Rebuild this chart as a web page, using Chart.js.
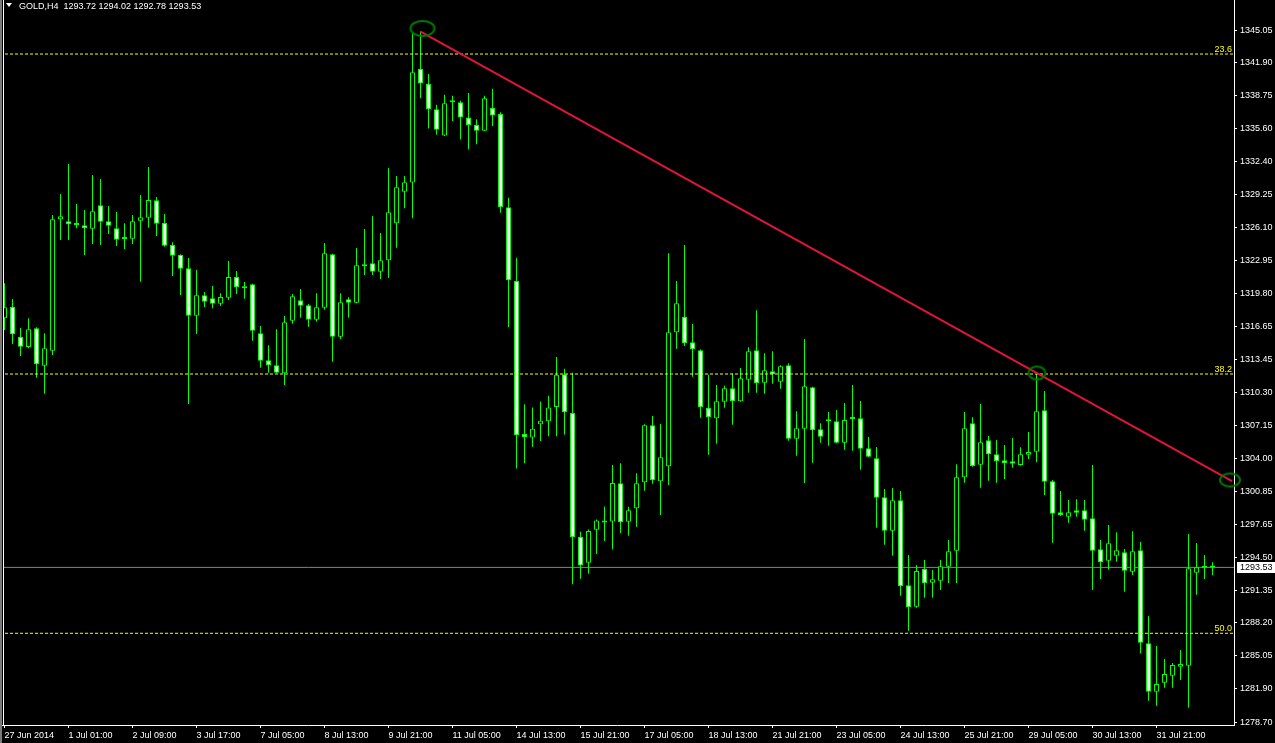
<!DOCTYPE html>
<html><head><meta charset="utf-8">
<script src="https://cdn.jsdelivr.net/npm/chart.js@4/dist/chart.umd.min.js"></script>
<style>html,body{margin:0;padding:0;background:#000;overflow:hidden}canvas{display:block;background:#000}</style>
</head><body>
<canvas id="c" width="1275" height="743"></canvas>
<script>
const symbolTitle = 'GOLD,H4';
const opens = [1317.41,1318.52,1315.65,1314.66,1316.45,1312.87,1314.31,1326.90,1326.71,1326.36,1326.33,1326.00,1328.25,1326.71,1326.04,1325.08,1325.04,1326.77,1327.06,1328.72,1326.55,1324.44,1323.48,1322.21,1317.66,1319.62,1319.33,1318.81,1319.39,1321.37,1320.32,1320.67,1315.97,1313.38,1312.91,1312.14,1317.18,1319.14,1318.66,1317.28,1318.43,1323.55,1315.65,1319.23,1318.91,1322.40,1322.69,1321.88,1322.97,1326.52,1329.55,1330.44,1341.35,1339.90,1337.46,1334.94,1338.13,1338.13,1336.67,1335.94,1335.40,1337.57,1337.00,1328.06,1320.98,1306.31,1305.99,1307.26,1307.54,1308.90,1312.05,1308.33,1296.46,1293.97,1297.13,1297.98,1297.94,1301.59,1297.91,1299.19,1301.69,1307.15,1301.78,1303.22,1316.07,1317.57,1315.11,1314.34,1308.84,1307.82,1309.42,1310.70,1309.45,1311.52,1314.34,1311.24,1312.33,1311.33,1312.91,1305.87,1306.83,1310.80,1306.77,1307.57,1307.54,1305.48,1307.76,1307.82,1304.95,1303.99,1300.25,1297.05,1299.96,1291.81,1289.76,1293.37,1292.06,1292.25,1293.59,1295.13,1302.17,1307.34,1303.37,1305.71,1304.37,1303.80,1303.70,1303.35,1304.33,1304.62,1308.59,1301.78,1298.81,1298.39,1299.00,1299.00,1298.24,1295.26,1294.17,1294.65,1294.97,1293.11,1295.17,1286.25,1281.61,1282.47,1283.14,1284.01,1284.10,1293.02,1293.50,1293.72];
const highs = [1320.77,1319.26,1316.48,1317.41,1316.55,1315.97,1327.32,1329.33,1332.21,1328.37,1327.80,1331.15,1330.77,1328.18,1327.60,1326.52,1327.32,1329.23,1331.92,1329.04,1327.41,1324.70,1323.55,1323.19,1322.04,1319.93,1320.51,1319.81,1322.91,1321.95,1320.89,1320.72,1316.67,1314.82,1316.36,1317.63,1319.74,1320.22,1318.78,1319.81,1324.63,1323.60,1319.81,1319.42,1324.15,1325.97,1327.22,1325.59,1331.82,1331.06,1331.06,1344.72,1344.90,1340.83,1337.88,1338.84,1338.74,1338.28,1339.01,1336.50,1338.74,1339.41,1337.17,1328.96,1323.21,1309.18,1308.86,1309.43,1309.99,1313.71,1312.58,1312.19,1296.95,1297.16,1298.12,1299.36,1303.35,1303.51,1299.35,1302.55,1307.25,1308.04,1307.28,1323.64,1320.99,1324.44,1316.87,1314.44,1312.00,1311.02,1310.95,1312.14,1312.65,1314.63,1318.18,1314.06,1314.25,1312.91,1313.10,1308.50,1315.43,1310.85,1307.34,1308.43,1308.62,1309.29,1311.02,1309.48,1306.03,1305.07,1301.05,1301.14,1300.85,1294.72,1293.76,1294.24,1293.28,1294.24,1296.16,1303.41,1308.43,1307.92,1309.19,1306.13,1305.74,1305.26,1305.93,1305.04,1306.51,1312.14,1310.44,1301.91,1300.85,1299.99,1300.06,1299.99,1303.35,1296.16,1297.59,1296.89,1295.29,1296.99,1295.96,1288.87,1285.99,1284.75,1284.36,1285.61,1296.73,1295.87,1294.72,1294.02];
const lows = [1316.29,1314.95,1313.80,1314.54,1311.72,1310.18,1313.89,1324.92,1324.92,1326.04,1323.48,1324.54,1324.44,1325.49,1324.34,1324.06,1324.54,1320.92,1326.10,1325.30,1324.27,1321.47,1319.65,1309.19,1315.91,1318.50,1318.37,1318.59,1319.17,1319.74,1319.29,1315.26,1312.68,1312.20,1312.14,1311.02,1316.89,1317.47,1316.61,1317.09,1318.24,1313.25,1315.43,1317.47,1318.85,1321.56,1321.56,1321.18,1321.27,1324.18,1327.96,1327.00,1338.52,1335.61,1335.04,1334.90,1336.33,1334.55,1333.60,1334.09,1335.37,1335.86,1327.54,1316.55,1303.01,1303.51,1305.10,1305.64,1306.10,1306.10,1306.27,1291.92,1292.45,1292.91,1294.82,1296.07,1295.25,1296.80,1296.57,1297.43,1300.88,1301.55,1298.55,1301.43,1314.50,1314.76,1311.81,1307.88,1304.33,1305.39,1308.84,1307.21,1309.40,1310.28,1310.28,1310.18,1311.14,1310.66,1305.68,1304.24,1301.62,1303.57,1305.48,1305.20,1305.43,1304.81,1304.72,1302.90,1304.10,1297.33,1295.70,1294.65,1290.81,1287.46,1289.66,1290.62,1290.62,1291.36,1292.02,1292.02,1301.65,1303.18,1301.17,1301.84,1301.65,1302.00,1303.09,1303.28,1303.92,1303.60,1300.47,1295.90,1298.46,1297.81,1298.39,1297.05,1291.36,1292.41,1293.31,1294.07,1291.20,1292.80,1285.29,1280.75,1280.27,1281.99,1281.99,1282.73,1280.08,1290.91,1292.41,1292.78];
const closes = [1318.47,1315.88,1314.69,1316.36,1313.00,1314.54,1326.90,1327.19,1326.42,1326.42,1326.04,1327.67,1326.67,1326.29,1324.95,1325.02,1326.71,1327.10,1328.75,1326.48,1324.37,1323.41,1322.17,1317.66,1319.62,1319.00,1318.81,1319.45,1321.37,1320.38,1320.29,1316.22,1313.35,1312.91,1312.20,1317.03,1319.52,1318.62,1317.28,1318.47,1323.64,1315.65,1318.95,1318.91,1322.49,1322.45,1321.88,1322.97,1327.58,1329.97,1330.45,1341.00,1339.93,1337.46,1335.50,1338.03,1338.24,1336.67,1335.94,1335.40,1338.52,1336.86,1328.06,1321.05,1306.20,1306.02,1306.81,1307.58,1308.86,1312.01,1308.40,1296.42,1293.70,1297.02,1298.02,1297.83,1301.63,1297.85,1299.00,1301.59,1307.15,1301.88,1304.08,1316.07,1318.85,1315.01,1314.44,1308.88,1307.92,1309.45,1310.70,1309.45,1311.66,1314.25,1311.18,1312.43,1312.04,1312.81,1305.87,1306.87,1310.89,1306.67,1306.06,1307.54,1305.48,1307.66,1307.83,1304.91,1304.14,1300.21,1297.05,1299.96,1291.72,1289.70,1293.18,1292.00,1292.39,1293.63,1295.07,1302.17,1306.87,1303.25,1305.52,1304.37,1303.70,1303.51,1303.47,1304.37,1304.59,1308.50,1301.74,1298.68,1298.55,1298.81,1298.77,1298.10,1295.13,1294.02,1295.84,1295.17,1293.21,1295.07,1286.31,1281.61,1282.35,1283.31,1284.17,1284.27,1293.44,1293.54,1293.57,1293.53];
const timeLabels = ['27 Jun 2014','1 Jul 01:00','2 Jul 09:00','3 Jul 17:00','7 Jul 05:00','8 Jul 13:00','9 Jul 21:00','11 Jul 05:00','14 Jul 13:00','15 Jul 21:00','17 Jul 05:00','18 Jul 13:00','21 Jul 21:00','23 Jul 05:00','24 Jul 13:00','25 Jul 21:00','29 Jul 05:00','30 Jul 13:00','31 Jul 21:00'];
const barsPerLabel = 8;
const priceTicks = [1345.05,1341.90,1338.75,1335.60,1332.40,1329.25,1326.10,1322.95,1319.80,1316.65,1313.45,1310.30,1307.15,1304.00,1300.85,1297.65,1294.50,1291.35,1288.20,1285.05,1281.90,1278.70];
const fibLevels = [1342.75, 1312.07, 1287.21];
const fibNames = ['23.6', '38.2', '50.0'];
const bidPrice = 1293.53;
const trendBars = [52, 153.44];
const trendPrices = [1344.90, 1301.81];
const markerBars = [52.25, 129.06, 153.19];
const markerPrices = [1345.20, 1312.17, 1301.91];

// view range / styles
const X_MIN = -0.5625, X_MAX = 153.6875, Y_MIN = 1278.417, Y_MAX = 1347.93;
const FONT = '"Liberation Sans", Arial, sans-serif';
const markerSizes = [[24, 15], [17, 13], [20, 13]];

function ellipseMark(w, h) {
  const c = document.createElement('canvas');
  c.width = w + 4; c.height = h + 4;
  const g = c.getContext('2d');
  g.strokeStyle = 'rgb(0,120,0)'; g.lineWidth = 2;
  g.beginPath(); g.ellipse(c.width / 2, c.height / 2, w / 2, h / 2, 0, 0, Math.PI * 2); g.stroke();
  return c;
}

const idx = opens.map((_, i) => i);
const bodyData = idx.map(i => ({x: i, y: [opens[i], closes[i]]}));
const wickData = idx.map(i => ({x: i, y: [lows[i], highs[i]]}));
const bodyFill = idx.map(i => closes[i] >= opens[i] ? '#000000' : '#ffffff');
const hline = v => [{x: X_MIN, y: v}, {x: X_MAX, y: v}];

const overlay = {
  id: 'overlay',
  afterDatasetsDraw(chart) {
    const {ctx, chartArea} = chart; const y = chart.scales.y;
    ctx.save();
    ctx.font = '9px ' + FONT; ctx.fillStyle = '#ffff00';
    ctx.textAlign = 'right'; ctx.textBaseline = 'alphabetic';
    fibLevels.forEach((lv, k) => ctx.fillText(fibNames[k], chartArea.right - 2, Math.round(y.getPixelForValue(lv)) - 2));
    ctx.restore();
  },
  afterDraw(chart) {
    const {ctx, chartArea} = chart; const y = chart.scales.y;
    const n = opens.length - 1;
    ctx.save();
    ctx.fillStyle = '#7a7a7a';
    ctx.fillRect(0, 0, 2, 743);
    ctx.fillStyle = '#000000';
    ctx.fillRect(2, 0, 1, chartArea.bottom);
    ctx.fillStyle = '#ffffff';
    ctx.fillRect(3, 0, 1, chartArea.bottom + 1);
    ctx.beginPath(); ctx.moveTo(6, 3); ctx.lineTo(12, 3); ctx.lineTo(9, 7); ctx.closePath(); ctx.fill();
    ctx.font = '9px ' + FONT; ctx.textAlign = 'left'; ctx.textBaseline = 'alphabetic';
    ctx.fillText(symbolTitle + '  ' + [opens[n], highs[n], lows[n], closes[n]].map(v => v.toFixed(2)).join(' '), 19, 9);
    const by = Math.round(y.getPixelForValue(bidPrice));
    ctx.fillRect(1237, by - 5, 38, 11);
    ctx.fillStyle = '#000000'; ctx.textBaseline = 'middle';
    ctx.fillText(bidPrice.toFixed(2), 1240, by + 0.5);
    ctx.restore();
  }
};

new Chart(document.getElementById('c'), {
  type: 'bar',
  data: {
    datasets: [
      {type: 'scatter', order: 0, data: markerBars.map((b, k) => ({x: b, y: markerPrices[k]})),
       pointStyle: markerSizes.map(s => ellipseMark(s[0], s[1])), clip: false},
      {type: 'line', order: 1, data: [{x: trendBars[0], y: trendPrices[0]}, {x: trendBars[1], y: trendPrices[1]}],
       borderColor: '#e0143c', borderWidth: 2, pointRadius: 0},
      ...fibLevels.map(lv => ({type: 'line', order: 2, data: hline(lv), borderColor: '#ffff00', borderWidth: 1, borderDash: [3, 2], pointRadius: 0})),
      {type: 'bar', order: 3, data: bodyData, grouped: false, maxBarThickness: 5, minBarLength: 2,
       backgroundColor: bodyFill, borderColor: '#00ff00', borderWidth: 1, borderSkipped: false, inflateAmount: 0},
      {type: 'bar', order: 4, data: wickData, grouped: false, maxBarThickness: 1,
       backgroundColor: '#00ff00', borderWidth: 0, inflateAmount: 0},
      {type: 'line', order: 5, data: hline(bidPrice), borderColor: '#778899', borderWidth: 1, pointRadius: 0}
    ]
  },
  options: {
    responsive: false, animation: false, devicePixelRatio: 1, events: [],
    layout: {padding: 0, autoPadding: false},
    plugins: {legend: {display: false}, tooltip: {enabled: false}, title: {display: false}},
    scales: {
      x: {
        type: 'linear', min: X_MIN, max: X_MAX, bounds: 'data', offset: false,
        grid: {display: true, drawOnChartArea: false, offset: false, color: '#ffffff', tickLength: 3},
        border: {display: true, color: '#ffffff', width: 1},
        ticks: {color: '#ffffff', font: {family: FONT, size: 9}, padding: 2, align: 'start',
                maxRotation: 0, minRotation: 0, autoSkip: false,
                callback: (v, k) => timeLabels[k]},
        afterBuildTicks: s => { s.ticks = timeLabels.map((_, k) => ({value: k * barsPerLabel})); },
        afterFit: s => { s.height = 18; s.paddingLeft = 0; s.paddingRight = 0; }
      },
      y: {
        type: 'linear', position: 'right', min: Y_MIN, max: Y_MAX, bounds: 'data', beginAtZero: false,
        grid: {display: true, drawOnChartArea: false, color: '#ffffff', tickLength: 3},
        border: {display: true, color: '#ffffff', width: 1},
        ticks: {color: '#ffffff', font: {family: FONT, size: 9}, padding: 3, autoSkip: false,
                callback: v => Number(v).toFixed(2)},
        afterBuildTicks: s => { s.ticks = priceTicks.map(v => ({value: v})); },
        afterFit: s => { s.width = 41; s.paddingTop = 0; s.paddingBottom = 0; }
      }
    }
  },
  plugins: [overlay]
});
</script>
</body></html>
